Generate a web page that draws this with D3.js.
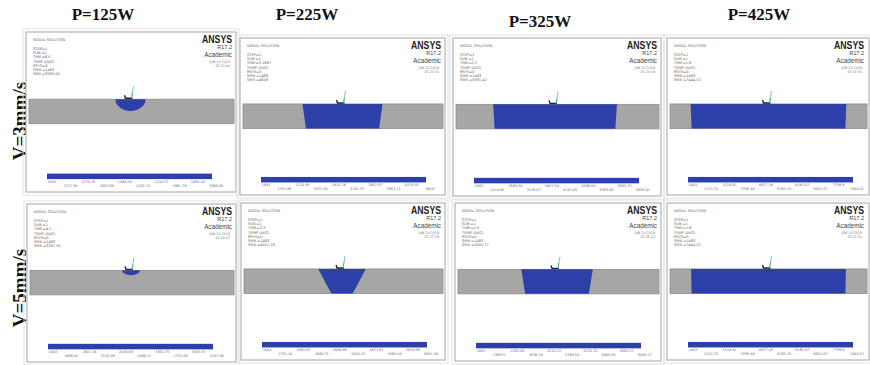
<!DOCTYPE html>
<html><head><meta charset="utf-8">
<script src="https://cdn.jsdelivr.net/npm/d3@7"></script>
<style>body{margin:0;background:#fff}</style>
</head><body><svg id="c" width="870" height="365"></svg>
<script>
// ---------- data ----------
const powers = ["P=125W", "P=225W", "P=325W", "P=425W"];
const speeds = ["V=3mm/s", "V=5mm/s"];
// weld pool geometry (mm), rows = speeds, columns = powers
const poolShape       = [["bowl", "trap", "trap", "trap"], ["bowl", "trap", "trap", "trap"]];
const poolTopWidth    = [[1.20, 3.28, 5.00, 6.48], [0.72, 1.96, 2.92, 6.44]];
const poolBottomWidth = [[0.00, 3.00, 4.88, 6.40], [0.00, 0.88, 2.60, 6.40]];
const poolDepth       = [[0.48, 1.00, 1.00, 1.00], [0.20, 1.00, 1.00, 1.00]];
const poolCenter      = [[-0.04, -0.02, -0.10, 0.00], [-0.04, -0.06, -0.06, 0.00]];
const plateWidth = 8.2;      // mm visible
const plateThickness = 1.0;  // mm
const timeLabels = [["TIME=6.5", "TIME=3.1667", "TIME=2.2", "TIME=1.8"], ["TIME=4.1", "TIME=2.3", "TIME=1.9", "TIME=1.8"]];
const smxLabels = [["SMX =3590.00", "SMX =4616", "SMX =5935.42", "SMX =7444.52"], ["SMX =3287.05", "SMX =4551.16", "SMX =5005.27", "SMX =7444.52"]];
const dateLabels = [["15:22:00", "15:22:31", "15:23:04", "15:21:56"], ["15:24:07", "15:27:29", "15:25:16", "15:21:56"]];
const legendLabels = [
  [["1483","1717.36","1774.75","2007.99","1868.58","2252.13","2214.37","2961.78","2405.14","3590.00"],
   ["1483","1751.89","2120.55","2471.30","2811.76","3162.33","3602.97","3953.11","4274.50","4616"],
   ["1483","2119.85","2665.54","3125.47","3607.54","4247.85","4896.54","5365.60","5933.73","5935.42"],
   ["1483","2231.31","3119.42","3795.48","4677.26","5263.15","6161.07","6922.07","7756.6","7444.52"]],
  [["1483","1699.41","1907.24","2115.06","2036.89","2499.11","2651.75","2775.89","3083.57","3287.05"],
   ["1483","1751.24","2092.87","2469.71","2604.96","3018.15","3477.62","3560.84","3819.59","4551.16"],
   ["1483","1959.5","2265.00","2636.28","3220.13","3790.54","4233.70","4985.93","5005.27","5005.27"],
   ["1483","2231.31","3119.42","3795.48","4677.26","5263.15","6161.07","6922.07","7756.6","7444.52"]]
];

// ---------- layout ----------
const svg = d3.select("#c");
const panels = [
  [{x:26,y:32,w:210,h:160},{x:240,y:38,w:205,h:157},{x:453,y:38,w:208,h:158},{x:667,y:38,w:202,h:157}],
  [{x:27,y:204,w:209,h:158},{x:241,y:203,w:204,h:157},{x:455,y:203,w:206,h:158},{x:667,y:203,w:202,h:157}]
];
const titleX = [103, 307, 540, 759], titleY = [20, 20, 27, 20];
const BLUE = "#2d3fa9", GREY = "#a6a6a6";

powers.forEach((p, j) => {
  svg.append("text").attr("x", titleX[j]).attr("y", titleY[j]).attr("text-anchor", "middle")
    .attr("font-family", "Liberation Serif").attr("font-weight", "bold").attr("font-size", 17)
    .attr("fill", "#111").text(p);
});
const rowCY = [121, 288];
speeds.forEach((s, i) => {
  svg.append("text").attr("transform", `translate(26,${rowCY[i]}) rotate(-90)`).attr("text-anchor", "middle")
    .attr("font-family", "Liberation Serif").attr("font-weight", "bold").attr("font-size", 19)
    .attr("fill", "#111").text(s);
});

speeds.forEach((s, i) => powers.forEach((p, j) => {
  const P = panels[i][j];
  const g = svg.append("g");
  // frames
  g.append("rect").attr("x", P.x - 3).attr("y", P.y - 3).attr("width", P.w + 6).attr("height", P.h + 6)
    .attr("fill", "none").attr("stroke", "#e2e2e2").attr("stroke-width", 1);
  g.append("rect").attr("x", P.x).attr("y", P.y).attr("width", P.w).attr("height", P.h)
    .attr("fill", "#fff").attr("stroke", "#b4b4b4").attr("stroke-width", 1.2);

  // scales
  const bx0 = P.x + 3, bx1 = P.x + P.w - 2;
  const by0 = P.y + 0.42 * P.h, by1 = by0 + 24.5;
  const xs = d3.scaleLinear().domain([-plateWidth / 2, plateWidth / 2]).range([bx0, bx1]);
  const ys = d3.scaleLinear().domain([0, plateThickness]).range([by0, by1]);

  // plate
  g.append("rect").attr("x", xs(-plateWidth / 2)).attr("y", ys(0))
    .attr("width", xs(plateWidth / 2) - xs(-plateWidth / 2)).attr("height", ys(plateThickness) - ys(0))
    .attr("fill", GREY).attr("stroke", "#8d8d8d").attr("stroke-width", 0.8);

  // pool
  const c = poolCenter[i][j], tw = poolTopWidth[i][j], bw = poolBottomWidth[i][j], d = poolDepth[i][j];
  if (poolShape[i][j] === "bowl") {
    const rx = (xs(c + tw / 2) - xs(c - tw / 2)) / 2, ry = ys(d) - ys(0);
    g.append("path").attr("fill", BLUE)
      .attr("d", `M${xs(c - tw / 2)},${ys(0)} A${rx},${ry} 0 0 0 ${xs(c + tw / 2)},${ys(0)} Z`);
  } else {
    const pts = [[c - tw / 2, 0], [c + tw / 2, 0], [c + bw / 2, d], [c - bw / 2, d]];
    g.append("path").attr("fill", BLUE)
      .attr("d", d3.line().x(q => xs(q[0])).y(q => ys(q[1]))(pts) + "Z");
  }

  // coordinate triad
  const tx = xs(c), ty = ys(0);
  g.append("path").attr("d", `M${tx - 6},${ty - 4} L${tx - 5},${ty - 1} L${tx + 2},${ty - 1}`)
    .attr("fill", "none").attr("stroke", "#222").attr("stroke-width", 1.4);
  g.append("line").attr("x1", tx + 1).attr("y1", ty - 1).attr("x2", tx + 3).attr("y2", ty - 13)
    .attr("stroke", "#6ec6e8").attr("stroke-width", 1);
  g.append("line").attr("x1", tx + 1).attr("y1", ty - 1).attr("x2", tx + 2).attr("y2", ty - 6)
    .attr("stroke", "#4caf50").attr("stroke-width", 0.8);

  // header text
  const hdr = ["NODAL SOLUTION", "", "STEP=1", "SUB =1", timeLabels[i][j], "TEMP        (AVG)", "RSYS=0", "SMN =1483", smxLabels[i][j]];
  hdr.forEach((t, k) => {
    g.append("text").attr("x", P.x + 7).attr("y", P.y + 9 + k * 4.3)
      .attr("font-family", "DejaVu Sans").attr("font-size", 3.6).attr("fill", "#666").text(t);
  });
  const rx = Math.min(P.x + P.w - 4, 864);
  g.append("text").attr("x", rx).attr("y", P.y + 11).attr("text-anchor", "end")
    .attr("font-family", "Liberation Sans").attr("font-weight", "bold").attr("font-size", 10.5)
    .attr("textLength", 30).attr("lengthAdjust", "spacingAndGlyphs").attr("fill", "#222").text("ANSYS");
  g.append("text").attr("x", rx).attr("y", P.y + 17).attr("text-anchor", "end")
    .attr("font-family", "Liberation Sans").attr("font-size", 5.5).attr("fill", "#444").text("R17.2");
  g.append("text").attr("x", rx).attr("y", P.y + 25).attr("text-anchor", "end")
    .attr("font-family", "Liberation Sans").attr("font-size", 6.3).attr("fill", "#444").text("Academic");
  g.append("text").attr("x", rx - 2).attr("y", P.y + 30.5).attr("text-anchor", "end")
    .attr("font-family", "DejaVu Sans").attr("font-size", 3.3).attr("fill", "#777").text("JUN 14 2018");
  g.append("text").attr("x", rx - 2).attr("y", P.y + 34.5).attr("text-anchor", "end")
    .attr("font-family", "DejaVu Sans").attr("font-size", 3.3).attr("fill", "#777").text(dateLabels[i][j]);

  // colour legend
  const cx0 = P.x + 21, cw = 165, cy = P.y + 0.885 * P.h;
  g.append("rect").attr("x", cx0).attr("y", cy).attr("width", cw).attr("height", 5.5).attr("fill", BLUE);
  const lx = d3.scalePoint().domain(d3.range(10)).range([cx0 + 5, cx0 + cw + 4]);
  legendLabels[i][j].forEach((t, k) => {
    g.append("text").attr("x", lx(k)).attr("y", cy + (k % 2 === 0 ? 9.5 : 13.5)).attr("text-anchor", "middle")
      .attr("font-family", "DejaVu Sans").attr("font-size", 3.4).attr("fill", "#666").text(t);
  });
}));
</script></body></html>
